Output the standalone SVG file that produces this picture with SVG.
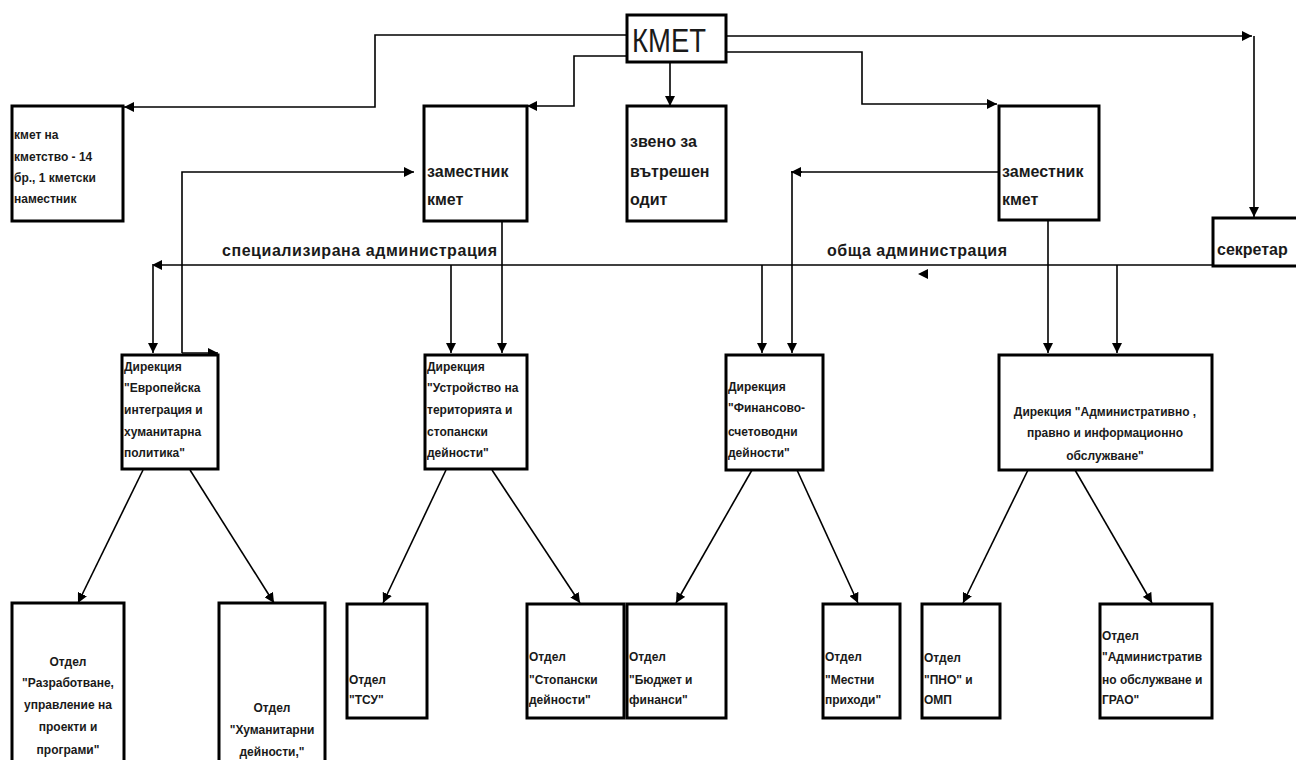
<svg xmlns="http://www.w3.org/2000/svg" width="1296" height="760" viewBox="0 0 1296 760">
<style>
.box{fill:#fff;stroke:#000;stroke-width:3}
.c{fill:none;stroke:#000;stroke-width:1.6}
.a{marker-end:url(#ah)}
.t{font-family:"Liberation Sans",Arial,sans-serif;font-weight:bold;fill:#1a1a1a}
.big{font-size:16px}
.sm{font-size:12px}
.md{font-size:12px}
.mid{text-anchor:middle}
</style>
<defs>
<marker id="ah" markerUnits="userSpaceOnUse" markerWidth="10" markerHeight="10" refX="10" refY="5" orient="auto">
<path d="M0,0 L10,5 L0,10 z" fill="#000"/>
</marker>
</defs>
<g id="connectors">
<path class="c a" d="M627,35 H375 V107 H124"/>
<path class="c a" d="M627,56 H574 V106 H527"/>
<path class="c a" d="M670,62 V106"/>
<path class="c a" d="M726,36 H1252"/>
<path class="c a" d="M1254,36 V217"/>
<path class="c a" d="M726,52 H862 V104 H997"/>
<path class="c a" d="M182,353 V172 H414"/>
<path class="c a" d="M182,353 H218"/>
<path class="c a" d="M999,172 H792 V353"/>
<path class="c a" d="M802,172 H791"/>
<path class="c a" d="M1213,265 H152"/>
<path class="c a" d="M153,266 V353"/>
<path class="c a" d="M451,265 V353"/>
<path class="c a" d="M502,221 V353"/>
<path class="c a" d="M762,265 V353"/>
<path class="c a" d="M1048,220 V353"/>
<path class="c a" d="M1117,265 V353"/>
<polygon points="918,274 928,269 928,279" fill="#000"/>
<path class="c a" d="M143,470 L78,603"/>
<path class="c a" d="M190,470 L274,603"/>
<path class="c a" d="M446,470 L383,603"/>
<path class="c a" d="M492,470 L580,603"/>
<path class="c a" d="M752,470 L676,603"/>
<path class="c a" d="M797,470 L858,603"/>
<path class="c a" d="M1028,470 L963,603"/>
<path class="c a" d="M1075,470 L1152,603"/>
</g>
<g id="kmet">
<rect class="box" x="627" y="15" width="99" height="47"/>
<text x="632" y="52" font-family="'Liberation Sans',Arial,sans-serif" font-size="34" fill="#1a1a1a" textLength="74" lengthAdjust="spacingAndGlyphs">КМЕТ</text>
</g>
<g id="kmet-kmetstvo">
<rect class="box" x="12" y="106" width="111" height="115"/>
<text class="t md" x="14" y="139">кмет на</text>
<text class="t md" x="14" y="161">кметство - 14</text>
<text class="t md" x="14" y="182">бр., 1 кметски</text>
<text class="t md" x="14" y="203">наместник</text>
</g>
<g id="zam1">
<rect class="box" x="424" y="106" width="103" height="115"/>
<text class="t big" x="427" y="177">заместник</text>
<text class="t big" x="427" y="205">кмет</text>
</g>
<g id="zveno">
<rect class="box" x="627" y="106" width="99" height="115"/>
<text class="t big" x="630" y="147">звено за</text>
<text class="t big" x="630" y="177">вътрешен</text>
<text class="t big" x="630" y="205">одит</text>
</g>
<g id="zam2">
<rect class="box" x="999" y="106" width="100" height="114"/>
<text class="t big" x="1002" y="177">заместник</text>
<text class="t big" x="1002" y="205">кмет</text>
</g>
<g id="sekretar">
<rect class="box" x="1213" y="218" width="90" height="48"/>
<text class="t big" x="1217" y="255">секретар</text>
</g>
<g id="labels">
<text class="t big" x="222" y="256" textLength="275">специализирана администрация</text>
<text class="t big" x="827" y="256" textLength="180">обща администрация</text>
</g>
<g id="dir-evro">
<rect class="box" x="122" y="355" width="96" height="114"/>
<text class="t sm" x="124" y="371">Дирекция</text>
<text class="t sm" x="124" y="392">"Европейска</text>
<text class="t sm" x="124" y="414">интеграция и</text>
<text class="t sm" x="124" y="436">хуманитарна</text>
<text class="t sm" x="124" y="457">политика"</text>
</g>
<g id="dir-ustr">
<rect class="box" x="425" y="355" width="102" height="114"/>
<text class="t sm" x="427" y="371">Дирекция</text>
<text class="t sm" x="427" y="392">"Устройство на</text>
<text class="t sm" x="427" y="414">територията и</text>
<text class="t sm" x="427" y="436">стопански</text>
<text class="t sm" x="427" y="457">дейности"</text>
</g>
<g id="dir-fin">
<rect class="box" x="726" y="355" width="97" height="115"/>
<text class="t sm" x="728" y="391">Дирекция</text>
<text class="t sm" x="728" y="412">"Финансово-</text>
<text class="t sm" x="728" y="436">счетоводни</text>
<text class="t sm" x="728" y="457">дейности"</text>
</g>
<g id="dir-admin">
<rect class="box" x="999" y="355" width="213" height="115"/>
<text class="t sm mid" x="1105" y="416">Дирекция "Административно ,</text>
<text class="t sm mid" x="1105" y="437">правно и информационно</text>
<text class="t sm mid" x="1105" y="460">обслужване"</text>
</g>
<g id="otdel-razrab">
<rect class="box" x="12" y="603" width="112" height="170"/>
<text class="t sm mid" x="68" y="666">Отдел</text>
<text class="t sm mid" x="68" y="687">"Разработване,</text>
<text class="t sm mid" x="68" y="709">управление на</text>
<text class="t sm mid" x="68" y="731">проекти и</text>
<text class="t sm mid" x="68" y="754">програми"</text>
</g>
<g id="otdel-human">
<rect class="box" x="219" y="603" width="106" height="170"/>
<text class="t sm mid" x="272" y="712">Отдел</text>
<text class="t sm mid" x="272" y="734">"Хуманитарни</text>
<text class="t sm mid" x="272" y="756">дейности,"</text>
</g>
<g id="otdel-tsu">
<rect class="box" x="347" y="604" width="80" height="114"/>
<text class="t sm" x="349" y="684">Отдел</text>
<text class="t sm" x="349" y="704">"ТСУ"</text>
</g>
<g id="otdel-stop">
<rect class="box" x="527" y="604" width="97" height="114"/>
<text class="t sm" x="529" y="661">Отдел</text>
<text class="t sm" x="529" y="684">"Стопански</text>
<text class="t sm" x="529" y="704">дейности"</text>
</g>
<g id="otdel-budget">
<rect class="box" x="627" y="604" width="99" height="114"/>
<text class="t sm" x="629" y="661">Отдел</text>
<text class="t sm" x="629" y="684">"Бюджет и</text>
<text class="t sm" x="629" y="704">финанси"</text>
</g>
<g id="otdel-mestni">
<rect class="box" x="823" y="604" width="77" height="114"/>
<text class="t sm" x="825" y="661">Отдел</text>
<text class="t sm" x="825" y="684">"Местни</text>
<text class="t sm" x="825" y="704">приходи"</text>
</g>
<g id="otdel-pno">
<rect class="box" x="922" y="604" width="78" height="114"/>
<text class="t sm" x="924" y="662">Отдел</text>
<text class="t sm" x="924" y="684">"ПНО" и</text>
<text class="t sm" x="924" y="704">ОМП</text>
</g>
<g id="otdel-admin">
<rect class="box" x="1100" y="604" width="112" height="114"/>
<text class="t sm" x="1102" y="640">Отдел</text>
<text class="t sm" x="1102" y="661">"Административ</text>
<text class="t sm" x="1102" y="684">но обслужване и</text>
<text class="t sm" x="1102" y="704">ГРАО"</text>
</g>
</svg>
